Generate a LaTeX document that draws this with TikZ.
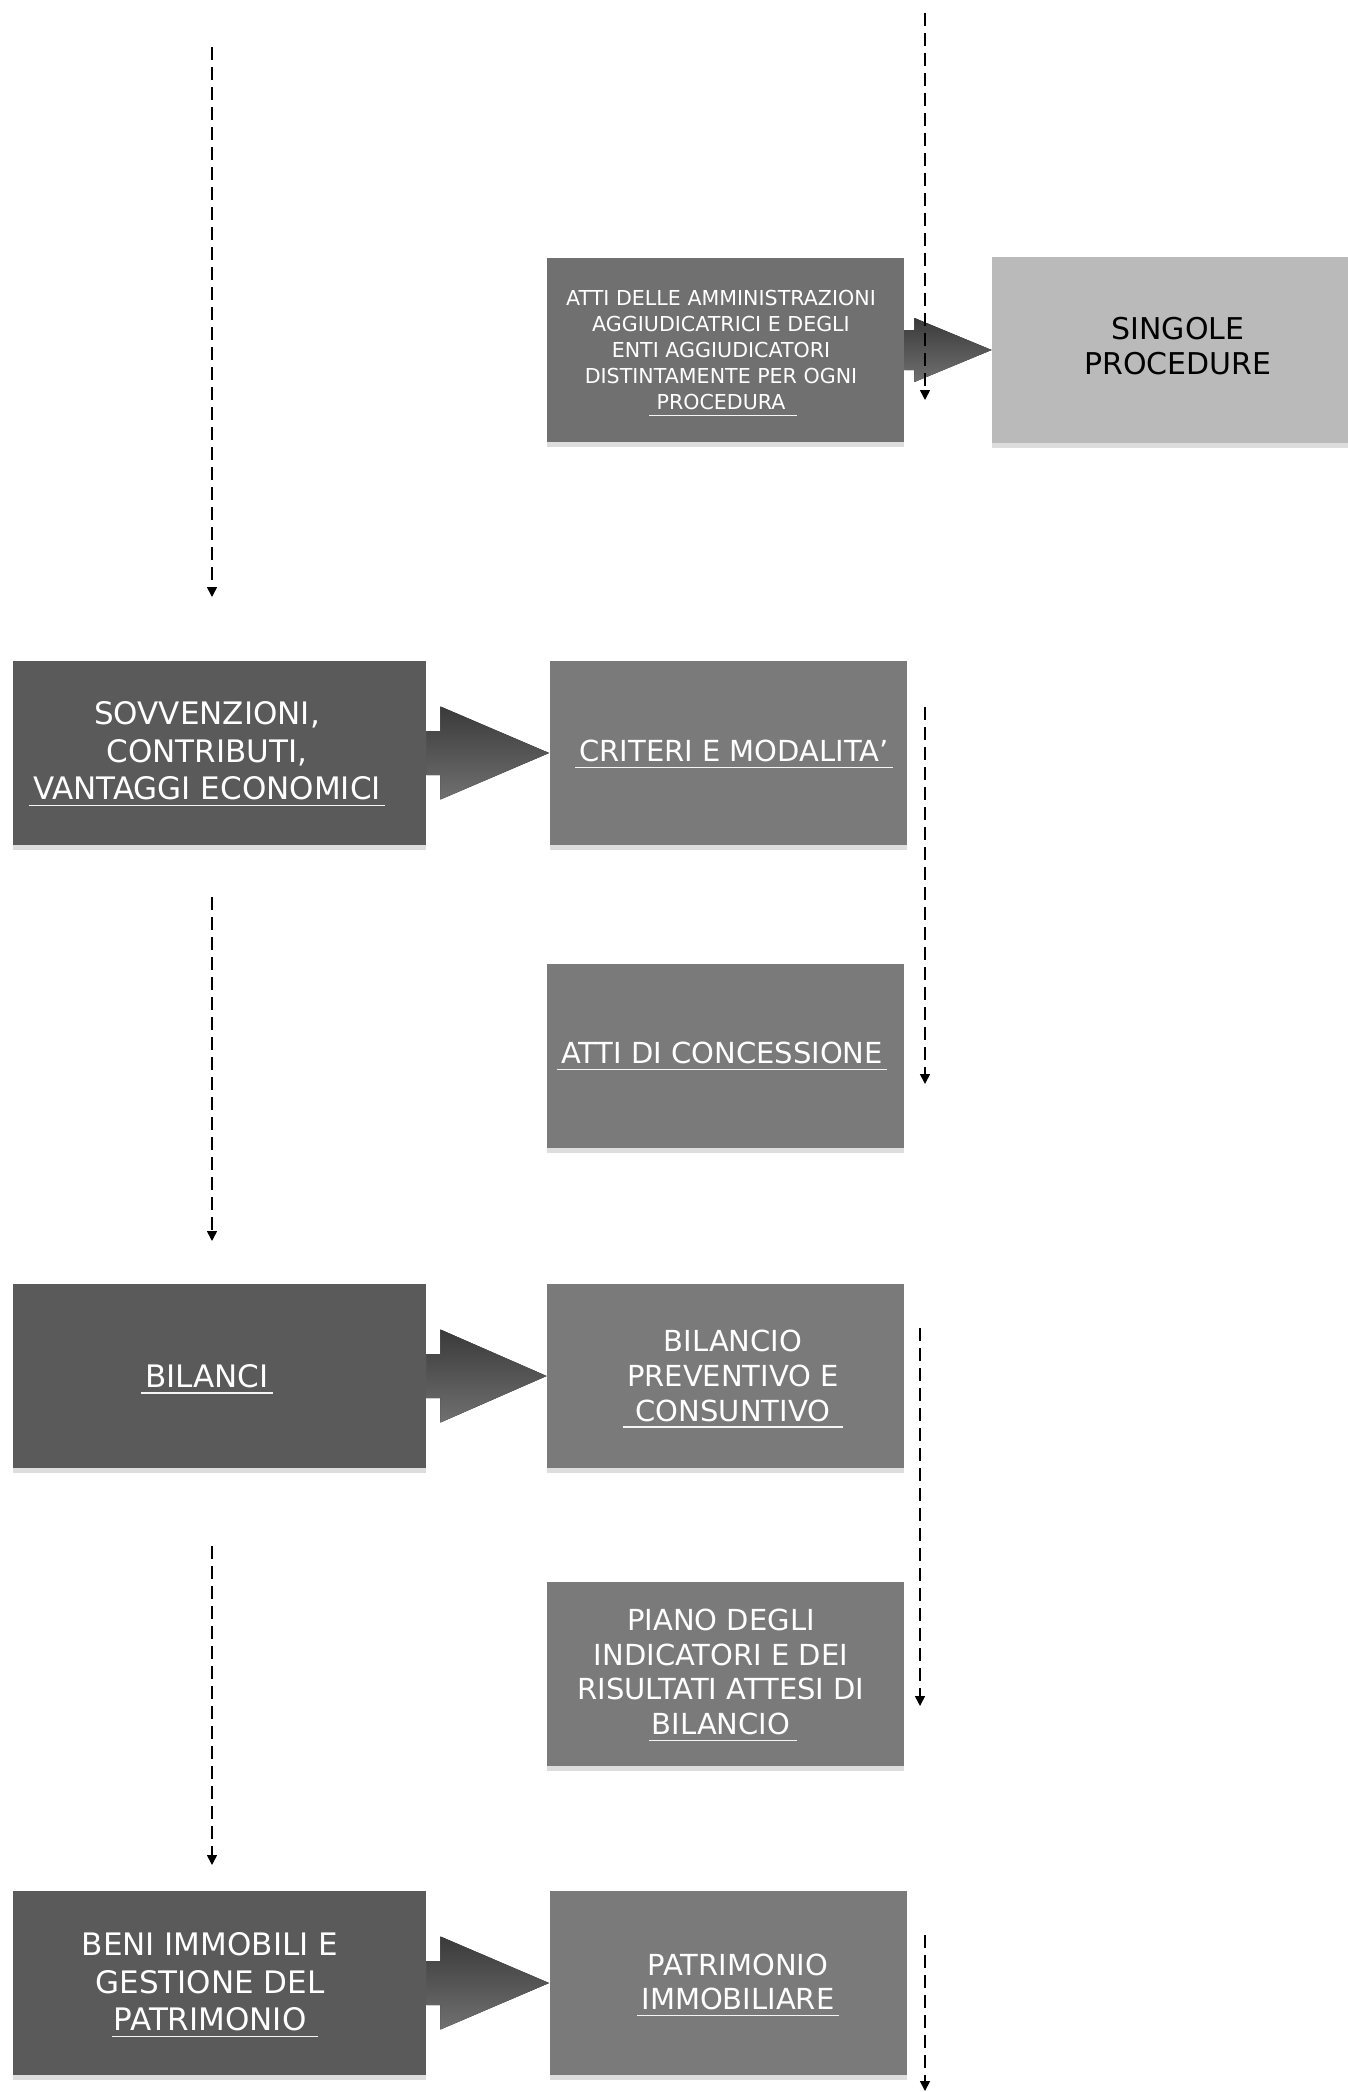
\documentclass[tikz,border=0pt]{standalone}
\usepackage{fontspec}
\setmainfont{DejaVu Sans}
\usetikzlibrary{shadows,calc,arrows.meta}
\definecolor{dgray}{RGB}{90,90,90}
\definecolor{mgray}{RGB}{122,122,122}
\definecolor{agray}{RGB}{112,112,112}
\definecolor{lgray}{RGB}{186,186,186}
\definecolor{arrtop}{RGB}{58,58,58}
\definecolor{arrbot}{RGB}{112,112,112}
\newcommand{\blockarrow}[5]{%
  \fill[top color=arrtop,bottom color=arrbot]
    ($(#1.east)+(0,-#3)$) -- ($(#1.east)+(#5,-#3)$) -- ($(#1.east)+(#5,-#4)$) --
    (#2.west) --
    ($(#1.east)+(#5,#4)$) -- ($(#1.east)+(#5,#3)$) -- ($(#1.east)+(0,#3)$) -- cycle;}
\begin{document}
\begin{tikzpicture}[x=0.5pt,y=-0.5pt,
  boxbase/.style={rectangle, inner sep=0pt, draw=none,
    drop shadow={shadow xshift=0pt,shadow yshift=-2.5pt,opacity=0.22,fill=black!60}},
  lbox/.style={boxbase, fill=dgray, minimum width=206.5pt, minimum height=92pt},
  rbox/.style={boxbase, fill=mgray, minimum width=178.5pt, minimum height=92pt},
  txt/.style={text=white, align=center, inner xsep=2pt, inner ysep=2.5pt,
    font=\fontsize{14.5}{17.4}\selectfont},
  ltxt/.style={txt, font=\fontsize{15.5}{18.7}\selectfont},
  uline/.style={draw=white!92!gray, line width=0.7pt},
  dashflow/.style={draw=black, line width=0.8pt, dash pattern=on 6.5pt off 3.5pt,
    -{Triangle[width=5pt,length=5pt]}}
]
\fill[white] (0,0) rectangle (1348,2092);
\useasboundingbox (0,0) rectangle (1348,2092);

% ---- row 1
\node[rbox, fill=agray] (atti) at (725.5,350) {};
\node[txt, font=\fontsize{10.3}{13.1}\selectfont] (attit) at (721,350)
  {ATTI DELLE AMMINISTRAZIONI\\AGGIUDICATRICI E DEGLI\\ENTI AGGIUDICATORI\\DISTINTAMENTE PER OGNI\\PROCEDURA};
\node[boxbase, fill=lgray, minimum width=178pt, minimum height=93pt] (sing) at (1170,350) {};
\node[txt, text=black, font=\fontsize{15}{17.4}\selectfont] (singt) at (1178,346) {SINGOLE\\PROCEDURE};

% ---- row 2
\node[lbox] (sov) at (219.5,753) {};
\node[ltxt] (sovt) at (207,751) {SOVVENZIONI,\\CONTRIBUTI,\\VANTAGGI ECONOMICI};
\node[rbox] (crit) at (728,753) {};
\node[txt] (critt) at (734,751) {CRITERI E MODALITA’};

% ---- row 3
\node[rbox] (conc) at (725.5,1056) {};
\node[txt] (conct) at (722,1053) {ATTI DI CONCESSIONE};

% ---- row 4
\node[lbox] (bil) at (219.5,1376) {};
\node[ltxt] (bilt) at (207,1376) {BILANCI};
\node[rbox] (bilp) at (725.5,1376) {};
\node[txt] (bilpt) at (733,1376) {BILANCIO\\PREVENTIVO E\\CONSUNTIVO};

% ---- row 5
\node[rbox] (piano) at (725.5,1674) {};
\node[txt] (pianot) at (721,1672) {PIANO DEGLI\\INDICATORI E DEI\\RISULTATI ATTESI DI\\BILANCIO};

% ---- row 6
\node[lbox] (beni) at (219.5,1983) {};
\node[ltxt] (benit) at (210,1982) {BENI IMMOBILI E\\GESTIONE DEL\\PATRIMONIO};
\node[rbox] (pat) at (728,1983) {};
\node[txt] (patt) at (738,1982) {PATRIMONIO\\IMMOBILIARE};

% ---- underlines of the text blocks (under the last line)
\foreach \t in {sovt,critt,conct,bilt,bilpt,patt}
  \draw[uline] (\t.south west) -- (\t.south east);
\draw[uline] ($(attit.south)+(-72,0)$) -- ($(attit.south)+(76,0)$);
\draw[uline] ($(pianot.south)+(-72,0)$) -- ($(pianot.south)+(76,0)$);
\draw[uline] ($(benit.south)+(-98,0)$) -- ($(benit.south)+(108,0)$);

% ---- block arrows
\blockarrow{atti}{sing}{20}{32}{10}
\blockarrow{sov}{crit}{22}{46.5}{14}
\blockarrow{bil}{bilp}{22}{46.5}{14}
\blockarrow{beni}{pat}{22}{46.5}{14}

% ---- dashed flow arrows
\coordinate (d1a) at (925,13);   \coordinate (d1b) at (925,400);
\coordinate (d2a) at (212,47);   \coordinate (d2b) at (212,597);
\coordinate (d3a) at (925,707);  \coordinate (d3b) at (925,1084);
\coordinate (d4a) at (212,897);  \coordinate (d4b) at (212,1241);
\coordinate (d5a) at (920,1328); \coordinate (d5b) at (920,1706);
\coordinate (d6a) at (212,1546); \coordinate (d6b) at (212,1865);
\coordinate (d7a) at (925,1935); \coordinate (d7b) at (925,2091);
\foreach \i in {1,...,7}
  \draw[dashflow] (d\i a) -- (d\i b);
\end{tikzpicture}
\end{document}
